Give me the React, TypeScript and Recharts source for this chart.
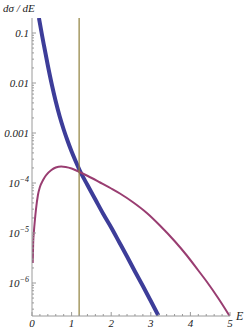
import React from 'react';
import { LineChart, Line, XAxis, YAxis, ReferenceLine } from 'recharts';

// Blue (thick) curve: energy E and log10(dσ/dE)
const blueE = [0.175, 0.25, 0.3, 0.4, 0.5, 0.6, 0.7, 0.8, 0.9, 1.0, 1.1, 1.2, 1.4, 1.6, 1.8, 2.0, 2.2, 2.4, 2.6, 2.8, 3.0, 3.19];
const blueLogY = [-0.7, -1.03, -1.24, -1.65, -2.03, -2.37, -2.67, -2.93, -3.16, -3.37, -3.56, -3.74, -4.04, -4.33, -4.62, -4.89, -5.18, -5.47, -5.77, -6.06, -6.36, -6.65];

// Purple (thin) curve
const purpleE = [0.018, 0.03, 0.05, 0.07, 0.1, 0.15, 0.2, 0.28, 0.35, 0.49, 0.6, 0.74, 0.85, 1.0, 1.2, 1.41, 1.72, 2.0, 2.22, 2.56, 2.9, 3.23, 3.6, 3.91, 4.2, 4.41, 4.7, 4.99];
const purpleLogY = [-5.6, -5.2, -4.95, -4.77, -4.53, -4.24, -4.08, -3.94, -3.85, -3.74, -3.69, -3.67, -3.68, -3.71, -3.78, -3.86, -3.99, -4.11, -4.21, -4.39, -4.6, -4.85, -5.16, -5.45, -5.75, -5.97, -6.3, -6.66];

const thresholdE = 1.19;

const xMajorTicks = [0, 1, 2, 3, 4, 5];
const xTickLabels = ['0', '1', '2', '3', '4', '5'];
const yMajorExps = [-6, -5, -4, -3, -2, -1];
const yTickLabels: [string, string][] = [
  ['10', '\u22126'],
  ['10', '\u22125'],
  ['10', '\u22124'],
  ['0.001', ''],
  ['0.01', ''],
  ['0.1', ''],
];

const X_DOMAIN: [number, number] = [0, 5];
const Y_DOMAIN: [number, number] = [-6.66, -0.7];

// Combined table (union of E values), nulls where a series has no sample
const allE = Array.from(new Set([...blueE, ...purpleE])).sort((a, b) => a - b);
const tableData = allE.map((e) => {
  const bi = blueE.indexOf(e);
  const pi = purpleE.indexOf(e);
  return {
    E: e,
    blue: bi >= 0 ? blueLogY[bi] : null,
    purple: pi >= 0 ? purpleLogY[pi] : null,
  };
});

const xTicks: number[] = [];
for (let i = 0; i <= 25; i++) xTicks.push(Math.round(i * 20) / 100);

const yTicks: number[] = [];
for (let n = -7; n <= -1; n++) {
  for (let k = 1; k <= 9; k++) {
    const t = n + Math.log10(k);
    if (t >= Y_DOMAIN[0] - 1e-9 && t <= Y_DOMAIN[1] + 1e-9) yTicks.push(t);
  }
}

const FONT = { fontFamily: '"Liberation Serif", "DejaVu Serif", serif', fontStyle: 'italic' as const };
const AXIS_COLOR = '#9a9a9a';
const TEXT_COLOR = '#222';

const findIdx = (arr: number[], v: number) => arr.findIndex((a) => Math.abs(a - v) < 1e-6);

const YTick = (props: any) => {
  const { x, y, payload } = props;
  const idx = findIdx(yMajorExps, payload.value);
  const major = idx >= 0;
  return (
    <g>
      <line x1={x} x2={x + (major ? 4 : 2)} y1={y} y2={y} stroke={AXIS_COLOR} strokeWidth={1} />
      {major && (
        <text x={x - 3} y={y + 4} textAnchor="end" fontSize={11} fill={TEXT_COLOR} {...FONT}>
          <tspan>{yTickLabels[idx][0]}</tspan>
          {yTickLabels[idx][1] && (
            <tspan dy={-5} fontSize={8}>
              {yTickLabels[idx][1]}
            </tspan>
          )}
        </text>
      )}
    </g>
  );
};

const XTick = (props: any) => {
  const { x, y, payload } = props;
  const idx = findIdx(xMajorTicks, payload.value);
  const major = idx >= 0;
  return (
    <g>
      <line x1={x} x2={x} y1={y} y2={y - (major ? 4 : 2)} stroke={AXIS_COLOR} strokeWidth={1} />
      {major && (
        <text x={x} y={y + 11} textAnchor="middle" fontSize={11} fill={TEXT_COLOR} {...FONT}>
          {xTickLabels[idx]}
        </text>
      )}
    </g>
  );
};

export default function App() {
  return (
    <div style={{ position: 'absolute', left: 0, top: 0, width: 245, height: 331, background: '#fff' }}>
      <LineChart width={245} height={331} data={tableData} margin={{ top: 18, right: 15, bottom: 0, left: 0 }}>
        <XAxis
          dataKey="E"
          type="number"
          domain={X_DOMAIN}
          allowDataOverflow
          ticks={xTicks}
          interval={0}
          tickSize={0}
          tickMargin={0}
          tickLine={false}
          tick={<XTick />}
          height={15}
          axisLine={{ stroke: AXIS_COLOR }}
          label={{
            content: () => (
              <text x={236} y={320} fontSize={12} fill={TEXT_COLOR} {...FONT}>
                E
              </text>
            ),
          }}
        />
        <YAxis
          type="number"
          domain={Y_DOMAIN}
          allowDataOverflow
          ticks={yTicks}
          interval={0}
          tickSize={0}
          tickMargin={0}
          tickLine={false}
          tick={<YTick />}
          width={32}
          axisLine={{ stroke: AXIS_COLOR }}
          label={{
            content: () => (
              <text x={3} y={12} fontSize={11} fill={TEXT_COLOR} {...FONT}>
                dσ / dE
              </text>
            ),
          }}
        />
        <Line
          dataKey="blue"
          type="monotone"
          connectNulls
          stroke="#3d3d99"
          strokeWidth={4}
          dot={false}
          activeDot={false}
          isAnimationActive={false}
        />
        <Line
          dataKey="purple"
          type="monotone"
          connectNulls
          stroke="#993d71"
          strokeWidth={2}
          dot={false}
          activeDot={false}
          isAnimationActive={false}
        />
        <ReferenceLine x={thresholdE} stroke="#8f803c" strokeWidth={1.2} />
      </LineChart>
    </div>
  );
}
